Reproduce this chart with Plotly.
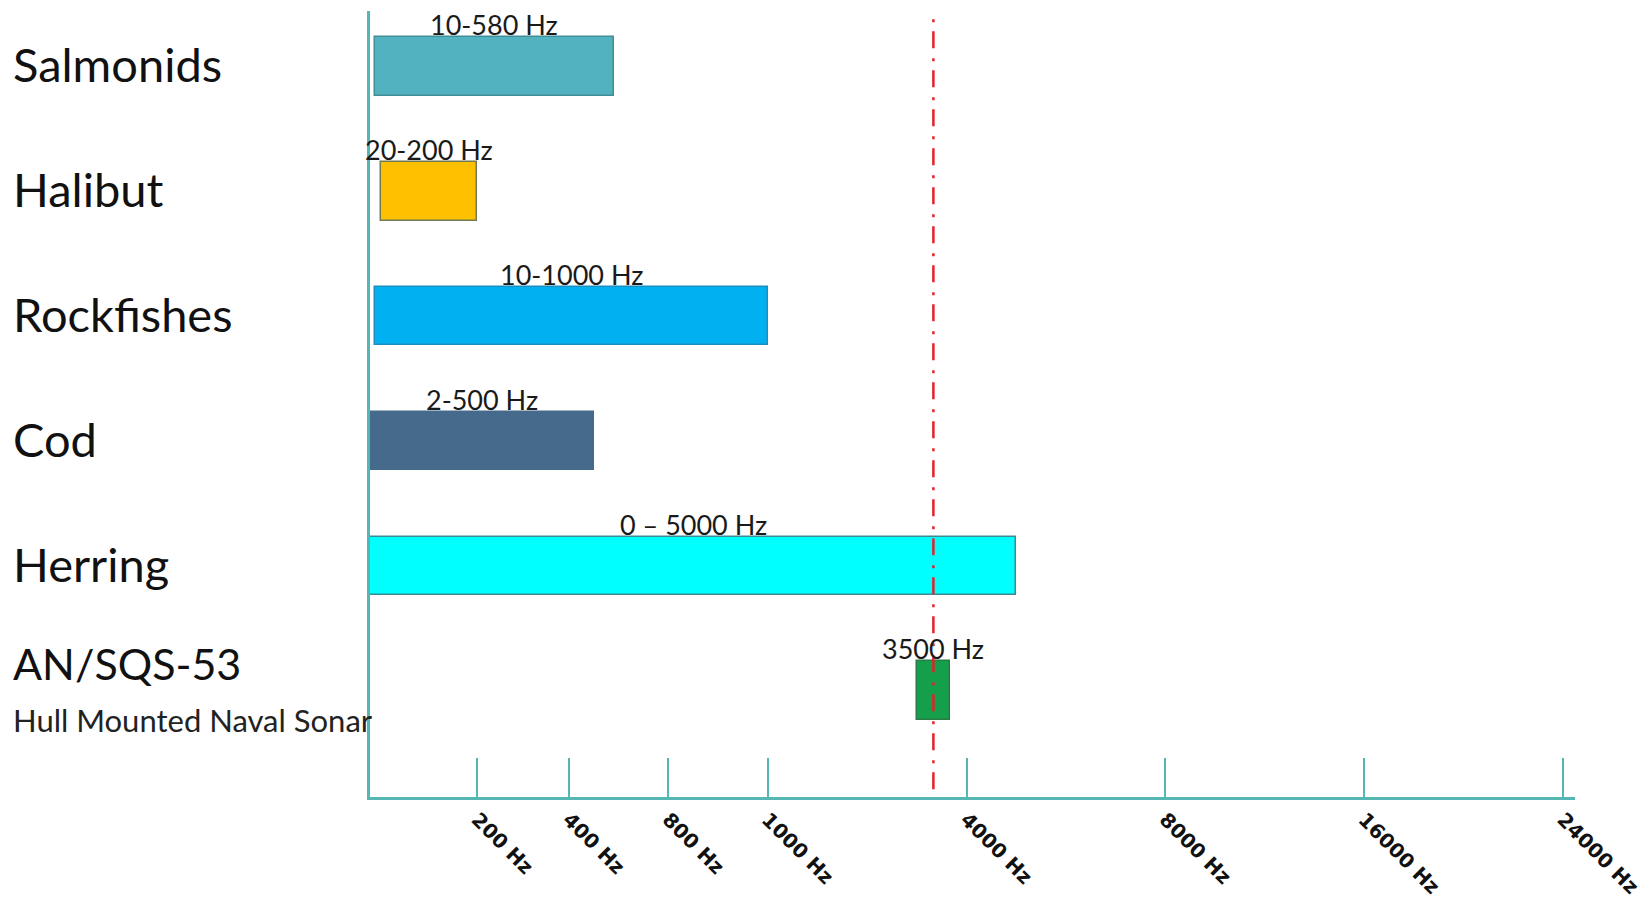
import numpy as np
import plotly.graph_objects as go

# ---- data ----
species = ["Salmonids", "Halibut", "Rockfishes", "Cod", "Herring", "AN/SQS-53"]
low_hz = [10, 20, 10, 2, 0, 3250]
high_hz = [580, 200, 1000, 500, 5000, 3750]
range_labels = ["10-580 Hz", "20-200 Hz", "10-1000 Hz", "2-500 Hz", "0 \u2013 5000 Hz", "3500 Hz"]
sonar_subtitle = "Hull Mounted Naval Sonar"
sonar_hz = 3500

# axis breakpoints (piecewise scale of the original figure)
tick_hz = [0, 200, 400, 800, 1000, 4000, 8000, 16000, 24000]
tick_pos = [0, 1.08, 2, 3, 4, 6, 8, 10, 12]
tick_text = ["", "200 Hz", "400 Hz", "800 Hz", "1000 Hz", "4000 Hz", "8000 Hz", "16000 Hz", "24000 Hz"]

# ---- styles ----
fill_colors = ["#53b2bf", "#ffc000", "#00b0f0", "#466a8c", "#00ffff", "#14a04a"]
line_colors = ["#3f8e98", "#6f7a55", "#1a8fc0", "#466a8c", "#3a8a94", "#2a7a45"]
axis_color = "#55b7b4"


def to_pos(hz):
    return np.interp(np.asarray(hz, dtype=float), tick_hz, tick_pos)


lo = to_pos(low_hz)
hi = to_pos(high_hz)
ypos = list(range(len(species)))
bar_w = 0.47

fig = go.Figure()
fig.add_trace(go.Bar(
    y=ypos, x=hi - lo, base=lo, orientation="h", width=bar_w,
    marker=dict(color=fill_colors, line=dict(color=line_colors, width=1.5)),
    showlegend=False, hoverinfo="skip",
))

label_font = "Lato, 'Open Sans', sans-serif"
annotations = []
for i, name in enumerate(species):
    center = (lo[i] + hi[i]) / 2
    annotations.append(dict(
        x=center, y=i - bar_w / 2, xref="x", yref="y", text=range_labels[i],
        showarrow=False, xanchor="center", yanchor="bottom", yshift=-6,
        font=dict(family=label_font, size=27, color="#1a1a1a"),
    ))
    if name == "AN/SQS-53":
        annotations.append(dict(
            x=-0.298, y=i, xref="paper", yref="y", text=name, showarrow=False,
            xanchor="left", yanchor="middle", yshift=27,
            font=dict(family=label_font, size=43, color="#111111"),
        ))
        annotations.append(dict(
            x=-0.298, y=i, xref="paper", yref="y", text=sonar_subtitle, showarrow=False,
            xanchor="left", yanchor="middle", yshift=-29,
            font=dict(family=label_font, size=31, color="#222222"),
        ))
    else:
        annotations.append(dict(
            x=-0.298, y=i, xref="paper", yref="y", text=name, showarrow=False,
            xanchor="left", yanchor="middle", yshift=2,
            font=dict(family=label_font, size=47, color="#111111"),
        ))

sx = float(to_pos(sonar_hz))
fig.add_shape(type="line", x0=sx, x1=sx, xref="x", y0=0.01, y1=1, yref="paper",
              line=dict(color="#e3222c", width=2.5, dash="17px,9px,3px,10px"))

fig.update_layout(
    width=1644, height=892,
    margin=dict(l=362, r=77, t=3, b=103),
    paper_bgcolor="white", plot_bgcolor="white",
    annotations=annotations,
    bargap=0,
    xaxis=dict(
        range=[0, 12.12], tickvals=tick_pos[1:], ticktext=tick_text[1:],
        tickangle=45, ticks="inside", ticklen=39, tickwidth=2, tickcolor=axis_color,
        showline=True, linecolor=axis_color, linewidth=3, showgrid=False, zeroline=False,
        tickfont=dict(family="DejaVu Sans", size=20, color="#111111", weight="bold"),
        automargin=False,
    ),
    yaxis=dict(
        range=[5.85, -0.443], showticklabels=False, ticks="",
        showline=True, linecolor=axis_color, linewidth=3, showgrid=False, zeroline=False,
        automargin=False,
    ),
)

fig.write_html("out.html")
